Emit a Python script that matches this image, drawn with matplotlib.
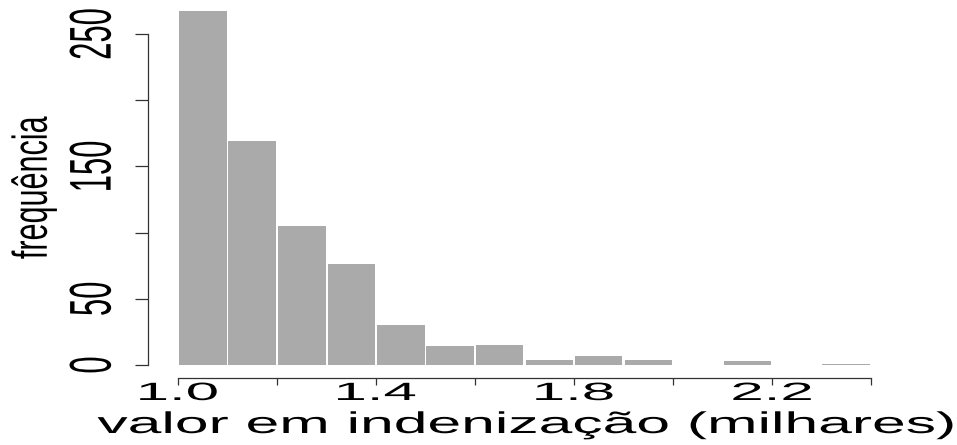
import matplotlib
matplotlib.use('Agg')
import matplotlib.pyplot as plt
import matplotlib.patheffects as pe
from matplotlib.transforms import Affine2D
import numpy as np

# histogram counts, one bin per 0.1 (thousands)
bin_edges = [1.0, 1.1, 1.2, 1.3, 1.4, 1.5, 1.6, 1.7, 1.8, 1.9, 2.0, 2.1, 2.2, 2.3, 2.4]
counts = [267, 169, 105, 76, 30, 14, 15, 4, 7, 4, 0, 3, 0, 1]

x_ticks = [1.0, 1.2, 1.4, 1.6, 1.8, 2.0, 2.2, 2.4]
x_tick_labels = ['1.0', '', '1.4', '', '1.8', '', '2.2', '']
y_ticks = [0, 50, 100, 150, 200, 250]
y_tick_labels = ['0', '50', '', '150', '', '250']

BAR_COLOR = '#aaaaaa'
AXIS_COLOR = '#333333'
PX = 72 / 100  # points per pixel at dpi 100
GAP = 2 / 495  # white gap between bars, in data units


class Stretch(pe.AbstractPathEffect):
    # the source image is stretched sideways, so widen the glyphs the same way
    def __init__(self, sx):
        super().__init__()
        self.sx = sx

    def draw_path(self, renderer, gc, tpath, affine, rgbFace=None):
        ext = tpath.get_extents(affine)
        cx = (ext.x0 + ext.x1) / 2
        affine = affine + Affine2D().translate(-cx, 0).scale(self.sx, 1).translate(cx, 0)
        renderer.draw_path(gc, tpath, affine, rgbFace)


plt.rcParams['font.family'] = 'Liberation Sans'

fig = plt.figure(figsize=(9.57, 4.45), dpi=100)
ax = fig.add_axes([160 / 957, 80 / 445, 730 / 957, 360 / 445])

edges = np.array(bin_edges)
centers = (edges[:-1] + edges[1:]) / 2
ax.bar(centers, counts, width=np.diff(edges) - GAP, color=BAR_COLOR,
       linewidth=0)

ax.set_xlim(1.0 - 18 / 495, 1.0 + 712 / 495)
ax.set_ylim(0, 360 / 1.324)

for side in ['top', 'right']:
    ax.spines[side].set_visible(False)
ax.spines['left'].set_position(('outward', 12 * PX))
ax.spines['bottom'].set_position(('outward', 13 * PX))
ax.spines['left'].set_bounds(0, 250)
ax.spines['bottom'].set_bounds(1.0, 2.4)
for side in ['left', 'bottom']:
    ax.spines[side].set_color(AXIS_COLOR)
    ax.spines[side].set_linewidth(0.9)

ax.set_xticks(x_ticks, x_tick_labels)
ax.set_yticks(y_ticks, y_tick_labels)
ax.tick_params(axis='x', length=7 * PX, width=0.9, color=AXIS_COLOR,
               pad=-4 * PX, labelsize=18)
ax.tick_params(axis='y', length=13 * PX, width=0.9, color=AXIS_COLOR,
               pad=42 * PX, labelsize=22.3)
plt.setp(ax.get_xticklabels(), path_effects=[Stretch(2.4)])
plt.setp(ax.get_yticklabels(), rotation=90, ha='center', va='center',
         path_effects=[Stretch(1.9)])

fig.text(526 / 957, 12 / 445, 'valor em indenização (milhares)',
         ha='center', va='baseline', fontsize=21.6, path_effects=[Stretch(2.02)])
fig.text(34 / 957, 1 - 188 / 445, 'frequência', rotation=90,
         ha='center', va='center', fontsize=22, path_effects=[Stretch(1.6)])

fig.savefig('out.png', dpi=100)
